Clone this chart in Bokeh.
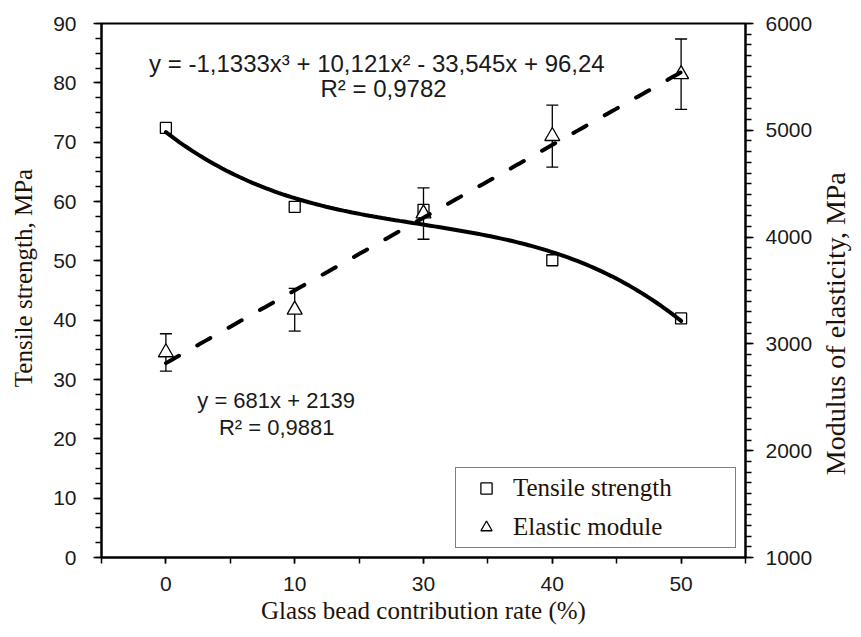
import numpy as np
from bokeh.plotting import figure
from bokeh.layouts import row
from bokeh.core.properties import value
from bokeh.models import (Range1d, LinearAxis, FixedTicker, Whisker, TeeHead,
                          ColumnDataSource, Legend, LegendItem, Label)
from bokeh.embed import file_html
from bokeh.resources import INLINE

# ---- data ----
categories = ["0", "10", "30", "40", "50"]
tensile = [72.4, 59.1, 58.6, 50.1, 40.3]
modulus = [2920, 3320, 4220, 4945, 5525]
modulus_err = [175, 200, 240, 290, 330]
cubic_coef = [-1.1333, 10.121, -33.545, 96.24]   # Excel trendline, x = 1..5
linear_coef = [681, 2139]                         # Excel trendline, x = 1..5
left_ticks = [0, 10, 20, 30, 40, 50, 60, 70, 80, 90]
right_ticks = [1000, 2000, 3000, 4000, 5000, 6000]
cubic_eq = "y = -1,1333x³  + 10,121x² - 33,545x  + 96,24"
cubic_r2 = "R² = 0,9782"
linear_eq = "y = 681x  + 2139"
linear_r2 = "R² = 0,9881"
right_title = "Modulus of elasticity, MPa"

idx = np.arange(1, len(categories) + 1)
upper = [m + e for m, e in zip(modulus, modulus_err)]
lower = [m - e for m, e in zip(modulus, modulus_err)]

TXT = "#1e1208"
SANS = "Liberation Sans"
SERIF = "Liberation Serif"
NB = "\u00a0"
TOP, BOTTOM = 23, 72
H = 629

yr = Range1d(0, 90)
p = figure(width=817, height=H, output_backend="svg", toolbar_location=None,
           x_range=Range1d(0.5, 5.5), y_range=yr,
           min_border_left=101, min_border_right=72, min_border_top=TOP,
           min_border_bottom=BOTTOM)
p.extra_y_ranges = {"right": Range1d(1000, 6000)}
p.xgrid.visible = False
p.ygrid.visible = False
p.outline_line_color = "black"
p.outline_line_width = 2
p.background_fill_color = "white"
p.border_fill_color = "white"

# x axis
xa = p.xaxis[0]
xa.ticker = FixedTicker(ticks=list(idx), minor_ticks=list(np.arange(0.5, 5.51, 0.5)))
xa.major_label_overrides = {int(i): c for i, c in zip(idx, categories)}
xa.axis_label = "Glass bead contribution rate (%)"
xa.major_tick_out = 6
xa.major_tick_in = 0
xa.minor_tick_out = 6
xa.minor_tick_in = 0
xa.major_label_standoff = 13
xa.axis_label_standoff = 3

# left axis
ya = p.yaxis[0]
ya.ticker = FixedTicker(ticks=left_ticks, minor_ticks=list(np.arange(0, 90.1, 2.5)))
ya.axis_label = NB * 4 + "Tensile strength, MPa"
ya.major_tick_out = 8
ya.major_tick_in = 0
ya.minor_tick_out = 6
ya.minor_tick_in = 0
ya.major_label_standoff = 17
ya.axis_label_standoff = 13

# right axis
ra = LinearAxis(y_range_name="right",
                ticker=FixedTicker(ticks=right_ticks,
                                   minor_ticks=list(range(1000, 6001, 100))))
ra.major_tick_out = 8
ra.major_tick_in = 0
ra.minor_tick_out = 6
ra.minor_tick_in = 0
ra.major_label_standoff = 12
p.add_layout(ra, "right")

for ax in (xa, ya, ra):
    ax.axis_line_width = 2
    ax.axis_line_color = "black"
    ax.major_tick_line_width = 1.5
    ax.minor_tick_line_width = 1.5
    ax.major_tick_line_color = "black"
    ax.minor_tick_line_color = "black"
    ax.major_label_text_font = SANS
    ax.major_label_text_font_size = "21px"
    ax.major_label_text_color = "#1a1a1a"
    ax.axis_label_text_font = SERIF
    ax.axis_label_text_font_size = "25px"
    ax.axis_label_text_font_style = "normal"
    ax.axis_label_text_color = TXT

# markers
sq = p.scatter(idx, tensile, marker="square", size=11, fill_color="white",
               line_color="black", line_width=1.3)
src = ColumnDataSource(dict(x=idx, y=modulus, upper=upper, lower=lower))
tri = p.scatter("x", "y", source=src, marker="triangle", size=15,
                fill_color="white", line_color="black", line_width=1.3,
                y_range_name="right")

wh = Whisker(source=src, base="x", upper="upper", lower="lower",
             y_range_name="right", line_color="black", line_width=1.3,
             upper_head=TeeHead(size=12, line_color="black", line_width=1.3),
             lower_head=TeeHead(size=12, line_color="black", line_width=1.3))
p.add_layout(wh)

# trendlines from the displayed equations
xs = np.linspace(idx[0], idx[-1], 120)
p.line(xs, np.polyval(cubic_coef, xs), line_color="black", line_width=4,
       line_cap="round")
p.line(xs, np.polyval(linear_coef, xs), line_color="black", line_width=4,
       line_dash="15 21", line_cap="round", y_range_name="right")

# equation labels
def lab(x, y, t, size):
    p.add_layout(Label(x=x, y=y, text=t, text_align="center",
                       text_baseline="middle", text_font=SANS,
                       text_font_size=size, text_color="#1a1a1a"))

lab(2.69, 83.3, cubic_eq, "24px")
lab(2.69, 79.0, cubic_r2, "24px")
lab(1.88, 26.5, linear_eq, "22px")
lab(1.86, 21.9, linear_r2, "22px")

legend = Legend(items=[LegendItem(label="Tensile strength", renderers=[sq]),
                       LegendItem(label="Elastic module", renderers=[tri])],
                location=(354, 9), orientation="vertical",
                border_line_color="black", border_line_width=1.5,
                background_fill_color="white", background_fill_alpha=1,
                padding=6, spacing=11, margin=0,
                glyph_width=48, glyph_height=28, label_height=28,
                label_standoff=3, label_width=216,
                label_text_font=SERIF, label_text_font_size="25px",
                label_text_color=TXT)
p.add_layout(legend)

# right-hand title strip (text reads bottom-to-top, as in the reference)
p2 = figure(width=36, height=H, output_backend="svg", toolbar_location=None,
            x_range=Range1d(0, 1), y_range=yr,
            min_border_left=0, min_border_right=0, min_border_top=TOP,
            min_border_bottom=BOTTOM)
p2.axis.visible = False
p2.grid.visible = False
p2.outline_line_color = None
p2.background_fill_color = "white"
p2.border_fill_color = "white"
p2.text(x=[0.5], y=[39.4], text=[right_title], angle=np.pi / 2,
        text_align="center", text_baseline="middle",
        text_font=value(SERIF), text_font_size="28px", text_color=TXT)

layout = row(p, p2, spacing=0)
open("out.html", "w").write(file_html(layout, INLINE))
